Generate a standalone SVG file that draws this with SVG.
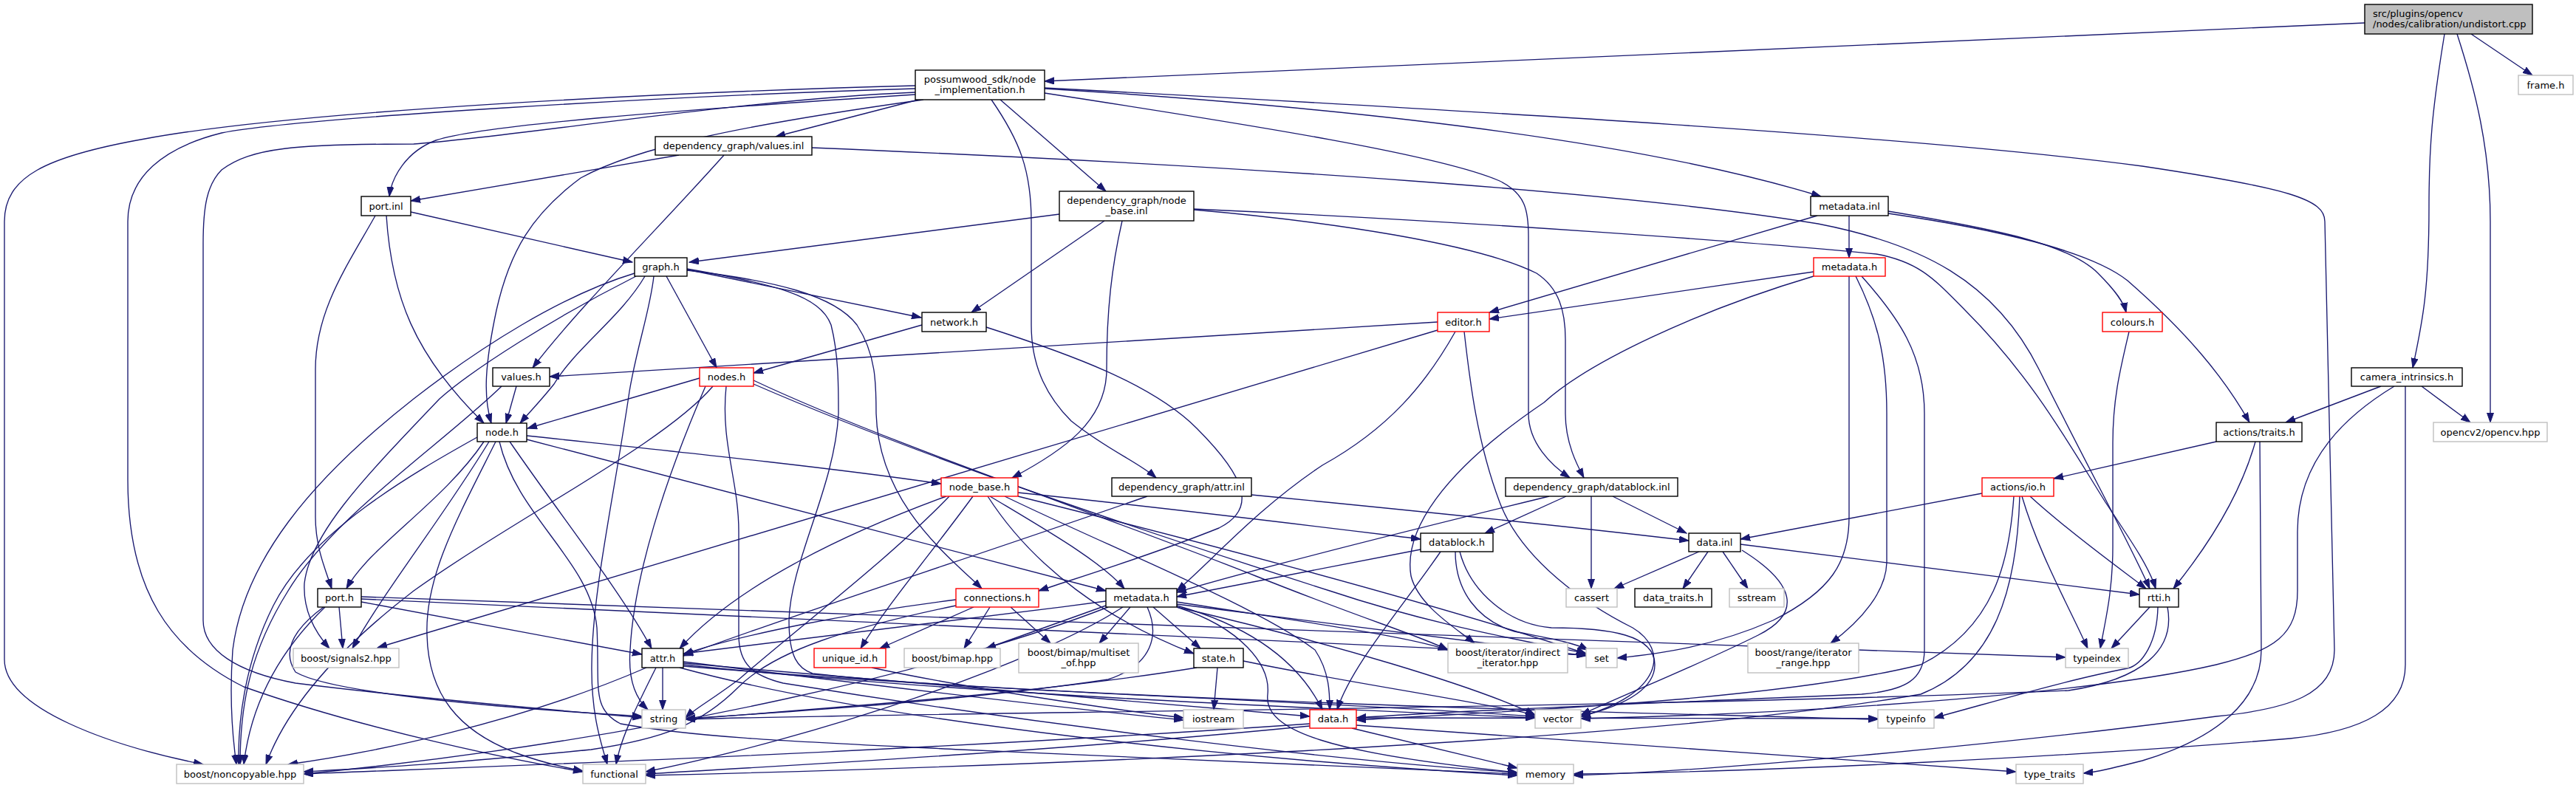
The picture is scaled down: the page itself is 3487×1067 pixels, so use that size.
<svg xmlns="http://www.w3.org/2000/svg" width="3487" height="1067" viewBox="0 0 3487 1067">
<style>
text{font-family:"DejaVu Sans","Liberation Sans",sans-serif;font-size:13px;fill:#000}
.c{text-anchor:middle}
rect{stroke-width:1.4}
.n rect{fill:#fff;stroke:#000}
.x rect{fill:#fff;stroke:#bfbfbf}
.r rect{fill:#fff;stroke:#f00}
.root rect{fill:#bfbfbf;stroke:#000}
#edges path{fill:none;stroke:#191970;stroke-width:1.35;marker-end:url(#a)}
</style>
<defs>
<marker id="a" markerUnits="userSpaceOnUse" markerWidth="14" markerHeight="10" refX="13" refY="5" orient="auto"><path d="M0,0.5 L13,5 L0,9.5 z" fill="#191970" stroke="#191970" stroke-width="1"/></marker>
</defs>
<rect width="3487" height="1067" fill="#fff"/>
<g id="edges">
<path d="M3201,31 C2600,56 2000,85 1414,110"/>
<path d="M3345,46 L3428,102"/>
<path d="M3309,46 C3292,150 3288,200 3288,280 C3288,400 3278,440 3266,498"/>
<path d="M3326,46 C3350,120 3371,200 3371,300 L3371,572"/>
<path d="M3223,523 L3094,572"/>
<path d="M3278,523 L3344,572"/>
<path d="M3256,523 L3256,900 C3256,960 3200,990 3100,1000 C2800,1025 2400,1045 2130,1048"/>
<path d="M3241,523 C3180,560 3110,620 3110,720 L3110,800 C3110,860 3080,880 3000,900 C2850,935 2500,965 2140,973"/>
<path d="M1239,116 C900,125 400,150 196,188 C60,212 6,240 6,300 L6,893 C6,960 150,1010 275,1035"/>
<path d="M1239,120 C900,130 400,160 300,180 C220,200 173,240 173,300 L173,650 C173,800 230,880 330,930 C500,990 700,1030 789,1045"/>
<path d="M1239,125 C1000,135 700,185 560,195 C400,195 340,200 300,230 C280,250 275,280 275,330 L275,840 C275,880 320,910 400,925 C600,950 800,965 869,972"/>
<path d="M1239,128 C900,150 650,170 590,190 C550,205 530,240 527,266"/>
<path d="M1250,135 C1000,170 860,200 786,241 C720,290 690,340 672,420 C655,500 655,540 665,573"/>
<path d="M1243,135 L1050,185"/>
<path d="M1354,135 L1497,259"/>
<path d="M1342,135 C1380,190 1396,230 1396,300 L1396,440 C1396,500 1420,540 1450,570 C1500,610 1540,625 1565,647"/>
<path d="M1414,126 C1700,170 1950,210 2030,245 C2065,262 2069,285 2069,320 L2069,560 C2069,600 2100,630 2125,647"/>
<path d="M1414,120 C1900,150 2250,200 2465,266"/>
<path d="M1414,119 C2000,150 2600,185 2900,225 C3100,255 3147,270 3147,300 L3160,880 C3160,940 3100,960 3000,970 C2700,1010 2300,1045 2130,1050"/>
<path d="M919,210 L556,272"/>
<path d="M980,210 C900,300 780,420 721,498"/>
<path d="M1099,200 C1700,225 2200,260 2461,303 C2600,330 2700,380 2760,500 C2830,640 2880,730 2910,797"/>
<path d="M556,287 L856,355"/>
<path d="M508,292 C470,360 427,420 427,500 L427,700 C427,740 440,770 449,797"/>
<path d="M523,292 C530,400 560,480 655,573"/>
<path d="M1434,290 L933,355"/>
<path d="M1495,299 L1315,423"/>
<path d="M1519,299 C1505,360 1498,420 1498,500 C1498,570 1440,610 1370,647"/>
<path d="M1616,284 C1800,300 2000,330 2080,370 C2110,390 2119,420 2119,460 L2119,560 C2119,600 2135,630 2144,647"/>
<path d="M1616,283 C2000,300 2400,330 2540,344 C2600,355 2620,380 2660,420 C2750,510 2800,600 2850,680 C2890,740 2910,770 2918,797"/>
<path d="M2460,292 L2016,423"/>
<path d="M2503,292 L2503,349"/>
<path d="M2556,286 C2700,310 2800,330 2840,370 C2865,395 2875,410 2878,423"/>
<path d="M2556,289 C2700,310 2830,340 2880,380 C2960,450 3010,510 3045,572"/>
<path d="M930,365 L1247,430"/>
<path d="M902,374 L970,498"/>
<path d="M873,374 C840,430 780,470 750,520 C730,545 715,560 704,573"/>
<path d="M930,366 C1050,380 1130,400 1160,440 C1186,480 1186,520 1186,560 C1190,680 1280,750 1329,797"/>
<path d="M859,370 C760,400 650,470 560,540 C420,650 330,760 315,880 C310,950 315,1000 320,1035"/>
<path d="M861,374 C750,430 640,500 595,540 C500,640 420,720 412,790 C410,830 430,860 446,878"/>
<path d="M885,374 C880,420 862,470 852,530 C830,680 802,800 801,900 C800,970 815,1010 822,1035"/>
<path d="M930,364 C1050,385 1110,400 1125,440 C1135,480 1135,520 1135,560 C1130,660 1070,760 1068,840 C1068,890 1080,905 1100,912 C1300,935 1700,945 2078,970"/>
<path d="M2455,368 L2016,432"/>
<path d="M2455,374 C2300,420 2150,490 2090,545 C1950,640 1900,720 1910,780 C1920,820 1970,850 1996,871"/>
<path d="M2503,374 L2503,700 C2503,760 2480,800 2400,840 C2320,875 2250,885 2189,891"/>
<path d="M2512,374 C2540,430 2554,480 2554,560 L2554,760 C2554,800 2520,840 2478,871"/>
<path d="M2520,374 C2570,430 2605,480 2605,560 L2605,880 C2605,920 2580,935 2520,940 C2300,950 2000,960 1836,972"/>
<path d="M1248,440 L1020,505"/>
<path d="M1335,443 C1450,480 1560,520 1620,580 C1690,650 1700,690 1650,715 C1550,755 1450,785 1406,800"/>
<path d="M1946,436 L744,510"/>
<path d="M1946,447 L511,877"/>
<path d="M1970,449 C1930,520 1880,580 1790,630 C1700,690 1640,760 1593,800"/>
<path d="M1982,449 C1990,520 2000,600 2030,680 C2060,760 2150,820 2210,850 C2260,880 2250,940 2140,970"/>
<path d="M2882,449 C2870,500 2860,540 2860,600 L2860,740 C2860,800 2850,840 2843,878"/>
<path d="M699,523 L685,573"/>
<path d="M679,523 C600,600 450,700 390,800 C340,880 325,950 325,1035"/>
<path d="M947,512 L714,580"/>
<path d="M965,523 C900,600 700,700 560,800 C430,900 380,980 360,1035"/>
<path d="M955,523 C900,650 858,780 853,880 C850,920 860,945 877,961"/>
<path d="M983,523 C975,600 1000,650 1000,720 L1000,860 C1000,900 1020,915 1060,925 C1400,980 1800,1030 2054,1046"/>
<path d="M1020,515 C1200,600 1500,700 1700,780 C1850,840 1920,860 1960,880"/>
<path d="M1020,520 C1250,620 1550,720 1800,800 C1950,850 2080,870 2147,885"/>
<path d="M655,598 C600,680 500,740 469,797"/>
<path d="M662,598 C600,700 520,800 477,878"/>
<path d="M646,592 C560,640 420,720 370,820 C330,900 322,980 323,1035"/>
<path d="M671,598 C620,700 575,780 578,860 C580,940 620,990 700,1020 C740,1035 770,1040 789,1044"/>
<path d="M676,598 C700,700 800,760 808,850 C812,930 800,960 840,980 C950,1000 1100,1005 1300,1015 C1600,1030 1900,1042 2054,1048"/>
<path d="M690,598 C760,700 840,800 882,878"/>
<path d="M713,590 C900,610 1100,630 1274,655"/>
<path d="M713,595 L1497,800"/>
<path d="M3000,598 L2780,648"/>
<path d="M3053,598 C3030,680 2980,750 2942,797"/>
<path d="M3059,598 L3061,880 C3061,950 3000,1000 2900,1030 C2860,1040 2840,1045 2820,1047"/>
<path d="M1281,672 C1150,720 1000,790 920,878"/>
<path d="M1317,672 C1260,750 1200,820 1165,878"/>
<path d="M1337,672 C1400,770 1500,840 1616,885"/>
<path d="M1340,672 C1420,720 1490,760 1522,797"/>
<path d="M1378,667 C1600,690 1800,715 1923,730"/>
<path d="M1378,672 C1650,740 1950,820 2147,885"/>
<path d="M1360,672 C1500,740 1700,820 1780,880 C1800,910 1800,940 1800,961"/>
<path d="M1285,672 C1200,760 1080,850 1000,920 C960,950 940,960 928,972"/>
<path d="M1553,672 C1300,760 1050,840 925,888"/>
<path d="M1694,670 C1900,690 2100,710 2286,732"/>
<path d="M2120,672 L2010,722"/>
<path d="M2154,672 L2154,797"/>
<path d="M2183,672 L2283,722"/>
<path d="M2097,672 C1900,720 1700,770 1593,802"/>
<path d="M2683,668 L2356,730"/>
<path d="M2748,672 C2800,720 2870,770 2905,797"/>
<path d="M2737,672 C2760,750 2800,820 2826,878"/>
<path d="M2726,672 C2720,760 2700,850 2600,900 C2400,950 2000,965 1836,975"/>
<path d="M2734,672 C2730,800 2700,900 2600,940 C2200,1010 1300,1040 874,1050"/>
<path d="M1923,744 L1593,808"/>
<path d="M1970,747 C1970,800 2000,840 2050,855 C2100,865 2130,870 2150,880"/>
<path d="M1976,747 C1990,800 2040,845 2100,850 C2180,850 2240,860 2240,900 C2240,940 2180,960 2140,970"/>
<path d="M1950,747 C1900,820 1830,900 1810,961"/>
<path d="M2300,747 L2185,797"/>
<path d="M2312,747 L2278,797"/>
<path d="M2332,747 L2366,797"/>
<path d="M2356,737 L2896,805"/>
<path d="M2358,745 C2430,790 2440,830 2380,860 C2300,900 2200,940 2140,968"/>
<path d="M459,822 L464,878"/>
<path d="M440,822 C380,880 340,950 330,1035"/>
<path d="M438,822 C400,850 380,880 400,910 C450,940 700,960 869,970"/>
<path d="M489,815 L869,886"/>
<path d="M489,808 L2796,890"/>
<path d="M489,811 L2147,887"/>
<path d="M1318,822 L1191,878"/>
<path d="M1340,822 L1305,878"/>
<path d="M1368,822 L1422,871"/>
<path d="M1294,812 C1150,830 1000,860 925,886"/>
<path d="M1294,820 C1150,850 1050,880 1000,930 C950,980 900,1000 800,1015 C600,1035 500,1040 411,1045"/>
<path d="M1497,820 L1335,878"/>
<path d="M1530,822 L1488,871"/>
<path d="M1561,822 L1625,878"/>
<path d="M1497,814 C1300,840 1100,865 925,885"/>
<path d="M1553,822 C1570,860 1560,900 1500,920 C1300,950 1050,965 928,973"/>
<path d="M1593,815 C1750,840 1900,860 1960,880"/>
<path d="M1593,818 C1800,845 2000,870 2147,888"/>
<path d="M1593,820 C1700,850 1760,900 1790,961"/>
<path d="M1593,822 C1800,870 2000,930 2078,968"/>
<path d="M1593,822 C1680,850 1720,900 1716,940 C1710,990 1800,1020 2054,1046"/>
<path d="M1500,822 C1300,900 900,1000 411,1048"/>
<path d="M1520,822 C1400,900 1100,1000 874,1045"/>
<path d="M897,904 L897,961"/>
<path d="M875,904 C700,980 500,1020 390,1035"/>
<path d="M888,904 C860,960 840,1000 834,1035"/>
<path d="M925,896 C1200,930 1450,960 1602,975"/>
<path d="M925,900 C1300,940 1800,960 2078,972"/>
<path d="M925,902 C1500,950 2200,965 2542,974"/>
<path d="M920,904 C1200,980 1700,1030 2054,1050"/>
<path d="M925,898 C1300,930 1600,955 1773,970"/>
<path d="M1180,904 C1300,930 1500,960 1602,972"/>
<path d="M1620,904 C1400,940 1100,960 928,974"/>
<path d="M1648,904 L1643,961"/>
<path d="M1683,895 C1800,920 2000,950 2078,968"/>
<path d="M1773,980 C1200,1020 600,1040 411,1048"/>
<path d="M1773,983 C1400,1020 1000,1040 874,1048"/>
<path d="M1830,986 L2054,1040"/>
<path d="M1836,982 C2200,1010 2500,1030 2729,1045"/>
<path d="M1836,972 L2542,973"/>
<path d="M2910,822 L2858,878"/>
<path d="M2921,822 C2920,870 2900,900 2880,905 C2800,920 2700,950 2618,972"/>
<path d="M2934,822 C2945,880 2900,920 2800,935 C2200,960 1200,965 928,974"/>
</g>
<g id="n0" class="root"><rect x="3201" y="6" width="227" height="40"/><text x="3212" y="22.5">src/plugins/opencv</text><text x="3212" y="37">/nodes/calibration/undistort.cpp</text></g>
<g id="n1" class="n"><rect x="1239" y="95" width="175" height="40"/><text class="c" x="1326.5" y="111.5">possumwood_sdk/node</text><text class="c" x="1326.5" y="126">_implementation.h</text></g>
<g id="n2" class="x"><rect x="3409" y="102" width="74" height="26"/><text class="c" x="3446" y="119.5">frame.h</text></g>
<g id="n3" class="n"><rect x="887" y="185" width="212" height="25"/><text class="c" x="993" y="202">dependency_graph/values.inl</text></g>
<g id="n4" class="n"><rect x="489" y="266" width="67" height="26"/><text class="c" x="522.5" y="283.5">port.inl</text></g>
<g id="n5" class="n"><rect x="1434" y="259" width="182" height="40"/><text class="c" x="1525" y="275.5">dependency_graph/node</text><text class="c" x="1525" y="290">_base.inl</text></g>
<g id="n6" class="n"><rect x="2451" y="266" width="105" height="26"/><text class="c" x="2503.5" y="283.5">metadata.inl</text></g>
<g id="n7" class="n"><rect x="859" y="349" width="71" height="25"/><text class="c" x="894.5" y="366">graph.h</text></g>
<g id="n8" class="r"><rect x="2455" y="349" width="97" height="25"/><text class="c" x="2503.5" y="366">metadata.h</text></g>
<g id="n9" class="n"><rect x="1248" y="423" width="87" height="26"/><text class="c" x="1291.5" y="440.5">network.h</text></g>
<g id="n10" class="r"><rect x="1946" y="423" width="70" height="26"/><text class="c" x="1981" y="440.5">editor.h</text></g>
<g id="n11" class="r"><rect x="2846" y="423" width="81" height="26"/><text class="c" x="2886.5" y="440.5">colours.h</text></g>
<g id="n12" class="n"><rect x="667" y="498" width="77" height="25"/><text class="c" x="705.5" y="515">values.h</text></g>
<g id="n13" class="r"><rect x="947" y="498" width="73" height="25"/><text class="c" x="983.5" y="515">nodes.h</text></g>
<g id="n14" class="n"><rect x="3183" y="498" width="150" height="25"/><text class="c" x="3258" y="515">camera_intrinsics.h</text></g>
<g id="n15" class="n"><rect x="646" y="573" width="67" height="25"/><text class="c" x="679.5" y="590">node.h</text></g>
<g id="n16" class="n"><rect x="3000" y="572" width="116" height="26"/><text class="c" x="3058" y="589.5">actions/traits.h</text></g>
<g id="n17" class="x"><rect x="3294" y="572" width="154" height="26"/><text class="c" x="3371" y="589.5">opencv2/opencv.hpp</text></g>
<g id="n18" class="r"><rect x="1274" y="647" width="104" height="25"/><text class="c" x="1326" y="664">node_base.h</text></g>
<g id="n19" class="n"><rect x="1505" y="647" width="189" height="25"/><text class="c" x="1599.5" y="664">dependency_graph/attr.inl</text></g>
<g id="n20" class="n"><rect x="2038" y="647" width="233" height="25"/><text class="c" x="2154.5" y="664">dependency_graph/datablock.inl</text></g>
<g id="n21" class="r"><rect x="2683" y="647" width="97" height="25"/><text class="c" x="2731.5" y="664">actions/io.h</text></g>
<g id="n22" class="n"><rect x="1923" y="722" width="98" height="25"/><text class="c" x="1972" y="739">datablock.h</text></g>
<g id="n23" class="n"><rect x="2286" y="722" width="70" height="25"/><text class="c" x="2321" y="739">data.inl</text></g>
<g id="n24" class="n"><rect x="430" y="797" width="59" height="25"/><text class="c" x="459.5" y="814">port.h</text></g>
<g id="n25" class="r"><rect x="1294" y="797" width="112" height="25"/><text class="c" x="1350" y="814">connections.h</text></g>
<g id="n26" class="n"><rect x="1497" y="797" width="96" height="25"/><text class="c" x="1545" y="814">metadata.h</text></g>
<g id="n27" class="x"><rect x="2120" y="797" width="69" height="25"/><text class="c" x="2154.5" y="814">cassert</text></g>
<g id="n28" class="n"><rect x="2213" y="797" width="104" height="25"/><text class="c" x="2265" y="814">data_traits.h</text></g>
<g id="n29" class="x"><rect x="2341" y="797" width="74" height="25"/><text class="c" x="2378" y="814">sstream</text></g>
<g id="n30" class="n"><rect x="2896" y="797" width="53" height="25"/><text class="c" x="2922.5" y="814">rtti.h</text></g>
<g id="n31" class="x"><rect x="397" y="878" width="143" height="26"/><text class="c" x="468.5" y="895.5">boost/signals2.hpp</text></g>
<g id="n32" class="n"><rect x="869" y="878" width="56" height="26"/><text class="c" x="897" y="895.5">attr.h</text></g>
<g id="n33" class="r"><rect x="1102" y="878" width="97" height="26"/><text class="c" x="1150.5" y="895.5">unique_id.h</text></g>
<g id="n34" class="x"><rect x="1224" y="878" width="130" height="26"/><text class="c" x="1289" y="895.5">boost/bimap.hpp</text></g>
<g id="n35" class="x"><rect x="1379" y="871" width="162" height="40"/><text class="c" x="1460" y="887.5">boost/bimap/multiset</text><text class="c" x="1460" y="902">_of.hpp</text></g>
<g id="n36" class="n"><rect x="1616" y="878" width="67" height="26"/><text class="c" x="1649.5" y="895.5">state.h</text></g>
<g id="n37" class="x"><rect x="1960" y="871" width="162" height="40"/><text class="c" x="2041" y="887.5">boost/iterator/indirect</text><text class="c" x="2041" y="902">_iterator.hpp</text></g>
<g id="n38" class="x"><rect x="2147" y="878" width="42" height="26"/><text class="c" x="2168" y="895.5">set</text></g>
<g id="n39" class="x"><rect x="2366" y="871" width="150" height="40"/><text class="c" x="2441" y="887.5">boost/range/iterator</text><text class="c" x="2441" y="902">_range.hpp</text></g>
<g id="n40" class="x"><rect x="2796" y="878" width="85" height="26"/><text class="c" x="2838.5" y="895.5">typeindex</text></g>
<g id="n41" class="x"><rect x="869" y="961" width="59" height="25"/><text class="c" x="898.5" y="978">string</text></g>
<g id="n42" class="x"><rect x="1602" y="961" width="81" height="25"/><text class="c" x="1642.5" y="978">iostream</text></g>
<g id="n43" class="r"><rect x="1773" y="961" width="63" height="25"/><text class="c" x="1804.5" y="978">data.h</text></g>
<g id="n44" class="x"><rect x="2078" y="961" width="62" height="25"/><text class="c" x="2109" y="978">vector</text></g>
<g id="n45" class="x"><rect x="2542" y="961" width="76" height="25"/><text class="c" x="2580" y="978">typeinfo</text></g>
<g id="n46" class="x"><rect x="239" y="1035" width="172" height="26"/><text class="c" x="325" y="1052.5">boost/noncopyable.hpp</text></g>
<g id="n47" class="x"><rect x="789" y="1035" width="85" height="26"/><text class="c" x="831.5" y="1052.5">functional</text></g>
<g id="n48" class="x"><rect x="2054" y="1035" width="76" height="26"/><text class="c" x="2092" y="1052.5">memory</text></g>
<g id="n49" class="x"><rect x="2729" y="1035" width="91" height="26"/><text class="c" x="2774.5" y="1052.5">type_traits</text></g>
</svg>
